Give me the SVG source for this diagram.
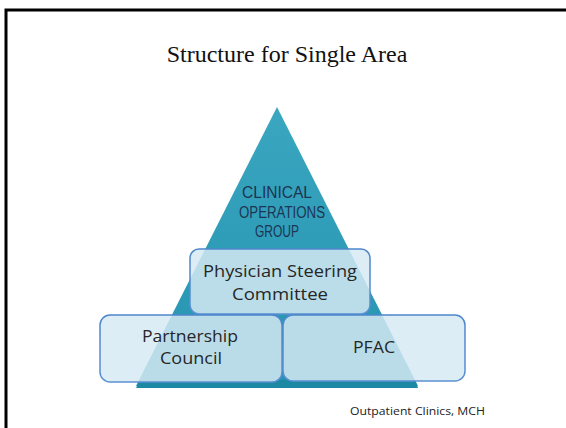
<svg xmlns="http://www.w3.org/2000/svg" width="566" height="428" viewBox="0 0 566 428">
  <defs>
    <linearGradient id="pyramidFill" x1="0" y1="0" x2="0" y2="1">
      <stop offset="0" stop-color="#3aa6c0"/>
      <stop offset="1" stop-color="#2593b0"/>
    </linearGradient>
    <linearGradient id="boxStroke" x1="0" y1="0" x2="0" y2="1">
      <stop offset="0" stop-color="#4d86cc"/>
      <stop offset="1" stop-color="#5b90d2"/>
    </linearGradient>
  </defs>
  <style>
    .frame { fill: none; stroke: #000; stroke-width: 3; }
    .title { font-family: "Liberation Serif", "Times New Roman", serif; font-size: 24px; fill: #111; }
    .box { fill: #d6eaf3; fill-opacity: 0.84; stroke: url(#boxStroke); stroke-width: 1.5; }
    .lbl { font-family: "Open Sans", "Liberation Sans", sans-serif; font-size: 16px; fill: #262626; text-anchor: middle; }
    .apex { font-family: "Liberation Sans", Arial, sans-serif; font-size: 16px; fill: #1b3553; text-anchor: middle; }
    .foot { font-family: "Open Sans", "Liberation Sans", sans-serif; font-size: 11px; fill: #222; }
  </style>

  <rect width="566" height="428" fill="#fff"/>
  <!-- slide frame: only top and left edges fall inside the view -->
  <path class="frame" d="M6,430 L6,10 L570,10"/>

  <text class="title" x="287" y="62" text-anchor="middle">Structure for Single Area</text>

  <g id="clinical-operations-group">
    <polygon points="277,107 136,386 418,386" fill="url(#pyramidFill)"/>
    <!-- darker base band of the pyramid -->
    <polygon points="140,380 415,380 418,388 136,388" fill="#1c88a4"/>
    <text class="apex" x="277" y="198" textLength="70" lengthAdjust="spacingAndGlyphs">CLINICAL</text>
    <text class="apex" x="282" y="218" textLength="86" lengthAdjust="spacingAndGlyphs">OPERATIONS</text>
    <text class="apex" x="277" y="237" textLength="44" lengthAdjust="spacingAndGlyphs">GROUP</text>
  </g>

  <g id="physician-steering-committee">
    <rect class="box" x="190" y="249" width="180" height="65" rx="9"/>
    <text class="lbl" x="280" y="277" textLength="154" lengthAdjust="spacingAndGlyphs">Physician Steering</text>
    <text class="lbl" x="280" y="300" textLength="96" lengthAdjust="spacingAndGlyphs">Committee</text>
  </g>

  <g id="partnership-council">
    <rect class="box" x="100" y="315" width="182" height="67" rx="10"/>
    <text class="lbl" x="190" y="342" textLength="96" lengthAdjust="spacingAndGlyphs">Partnership</text>
    <text class="lbl" x="191" y="364" textLength="62" lengthAdjust="spacingAndGlyphs">Council</text>
  </g>

  <g id="pfac">
    <rect class="box" x="283" y="315" width="182" height="66" rx="10"/>
    <text class="lbl" x="374" y="353" textLength="42" lengthAdjust="spacingAndGlyphs">PFAC</text>
  </g>

  <text class="foot" x="350" y="415" textLength="135" lengthAdjust="spacingAndGlyphs">Outpatient Clinics, MCH</text>
</svg>
